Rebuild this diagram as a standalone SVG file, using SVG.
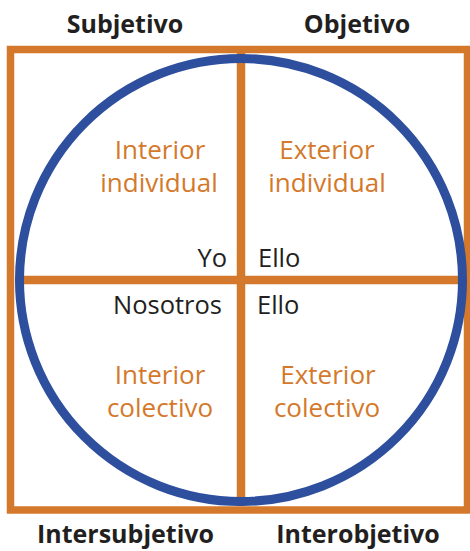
<svg xmlns="http://www.w3.org/2000/svg" width="470" height="551" viewBox="0 0 470 551">
<style>
.frame{fill:none;stroke:#d4792b;stroke-width:7.5}
.bar{stroke:#d4792b;stroke-width:8.5}
.circ{fill:none;stroke:#2e4f9d;stroke-width:9}
.h{font-family:"Open Sans","Liberation Sans",sans-serif;font-weight:bold;font-size:25px;fill:#231f20;text-anchor:middle}
.q{font-family:"Open Sans","Liberation Sans",sans-serif;font-size:26px;fill:#d4792b;text-anchor:middle}
.k{font-family:"Open Sans","Liberation Sans",sans-serif;font-size:25.5px;fill:#231f20}
</style>
<g id="frame"><rect class="frame" x="10.5" y="49.5" width="457" height="460.5"/></g>
<g id="connectors">
<line class="bar" x1="241" y1="53" x2="241" y2="506"/>
<line class="bar" x1="22" y1="280" x2="459" y2="280"/>
</g>
<g id="circle"><circle class="circ" cx="241" cy="280" r="221.5"/></g>
<g id="subjetivo"><text class="h" x="125" y="33">Subjetivo</text></g>
<g id="objetivo"><text class="h" x="357" y="33">Objetivo</text></g>
<g id="intersubjetivo"><text class="h" x="125.5" y="543">Intersubjetivo</text></g>
<g id="interobjetivo"><text class="h" x="358" y="543">Interobjetivo</text></g>
<g id="interior-individual"><text class="q" x="160" y="159">Interior</text><text class="q" x="159" y="192">individual</text></g>
<g id="exterior-individual"><text class="q" x="327" y="159">Exterior</text><text class="q" x="327" y="192">individual</text></g>
<g id="interior-colectivo"><text class="q" x="160" y="384">Interior</text><text class="q" x="160" y="417">colectivo</text></g>
<g id="exterior-colectivo"><text class="q" x="328" y="384">Exterior</text><text class="q" x="327" y="417">colectivo</text></g>
<g id="yo"><text class="k" x="227" y="267" text-anchor="end">Yo</text></g>
<g id="ello-top"><text class="k" x="258" y="267">Ello</text></g>
<g id="nosotros"><text class="k" x="222" y="314" text-anchor="end">Nosotros</text></g>
<g id="ello-bottom"><text class="k" x="257" y="314">Ello</text></g>
</svg>
